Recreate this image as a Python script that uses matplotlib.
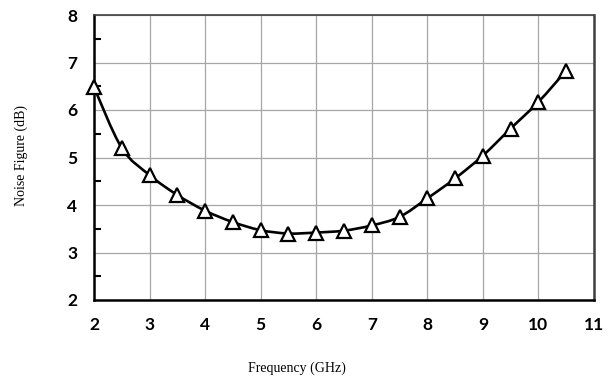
import numpy as np
import matplotlib
matplotlib.use("Agg")
import matplotlib.pyplot as plt
from matplotlib.path import Path
from matplotlib.patches import PathPatch

# data
freq = [2, 2.5, 3, 3.5, 4, 4.5, 5, 5.5, 6, 6.5, 7, 7.5, 8, 8.5, 9, 9.5, 10, 10.5]
nf = [6.48, 5.20, 4.63, 4.21, 3.88, 3.64, 3.47, 3.40, 3.42, 3.46, 3.57, 3.75,
      4.14, 4.56, 5.04, 5.61, 6.17, 6.83]
x_ticks = [2, 3, 4, 5, 6, 7, 8, 9, 10, 11]
y_ticks = [2, 3, 4, 5, 6, 7, 8]


# smooth path through the points (Catmull-Rom as cubic bezier, like excel)
def smooth_path(xs, ys, t=1 / 6):
    p = np.column_stack([xs, ys])
    verts = [p[0]]
    codes = [Path.MOVETO]
    n = len(p)
    for i in range(n - 1):
        p0 = p[i - 1] if i > 0 else p[i]
        p3 = p[i + 2] if i + 2 < n else p[i + 1]
        c1 = p[i] + (p[i + 1] - p0) * t
        c2 = p[i + 1] - (p3 - p[i]) * t
        verts += [c1, c2, p[i + 1]]
        codes += [Path.CURVE4] * 3
    return Path(verts, codes)


fig = plt.figure(figsize=(6.15, 3.81), dpi=100)
ax = fig.add_axes([94 / 615, 1 - 300 / 381, 500 / 615, 285 / 381])

ax.add_patch(PathPatch(smooth_path(freq, nf), fill=False, lw=1.9,
                       edgecolor="black", zorder=3))
ax.plot(freq, nf, linestyle="none", marker="^", markersize=10,
        markerfacecolor="white", markeredgecolor="black",
        markeredgewidth=1.6, zorder=4, clip_on=False)

ax.set_xlim(2, 11)
ax.set_ylim(2, 8)
ax.set_xticks(x_ticks)
ax.set_yticks(y_ticks)
ax.set_yticks(np.arange(2.5, 8, 1), minor=True)
ax.grid(True, which="major", color="#a6a6a6", lw=0.9)
ax.set_axisbelow(True)

ax.tick_params(axis="x", which="major", length=0, pad=12.5)
ax.tick_params(axis="y", which="major", length=0, pad=12)
ax.tick_params(axis="y", which="minor", direction="in", length=5, width=1.5,
               color="black")
for lab in ax.get_xticklabels() + ax.get_yticklabels():
    lab.set_fontfamily("Lato")
    lab.set_fontweight("bold")
    lab.set_fontsize(12.5)

ax.spines["left"].set_linewidth(1.8)
ax.spines["bottom"].set_linewidth(1.8)
ax.spines["top"].set_linewidth(1.2)
ax.spines["top"].set_color("#404040")
ax.spines["right"].set_linewidth(1.8)
ax.spines["right"].set_color("#404040")

fig.text(297 / 615, 1 - 368 / 381, "Frequency (GHz)", ha="center", va="center",
         family="Liberation Serif", fontsize=10)
fig.text(21 / 615, 1 - 156 / 381, "Noise Figure (dB)", ha="center", va="center",
         rotation=90, family="Liberation Serif", fontsize=10)

fig.savefig("out.png", dpi=100)
